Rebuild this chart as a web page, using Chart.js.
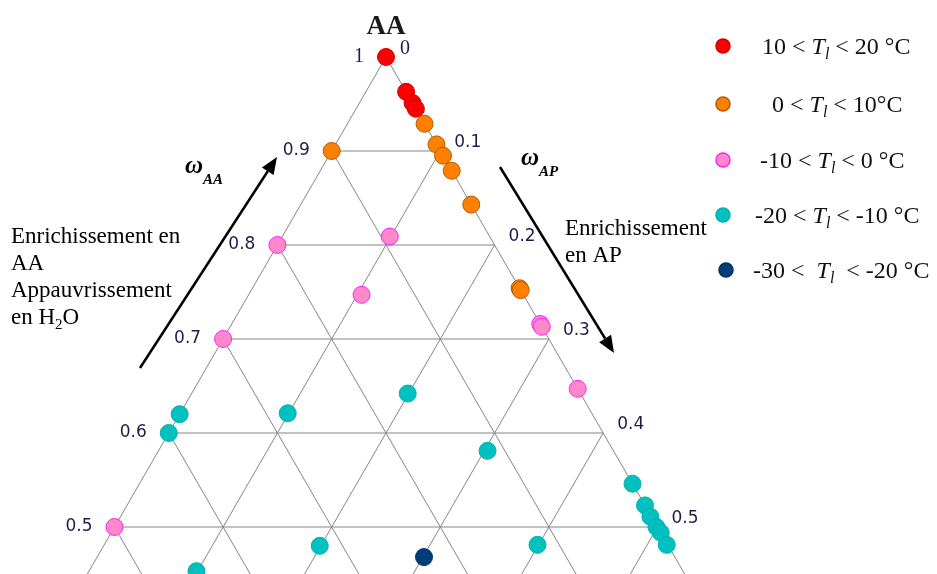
<!DOCTYPE html>
<html>
<head>
<meta charset="utf-8">
<script src="https://cdn.jsdelivr.net/npm/chart.js@4.4.1/dist/chart.umd.min.js"></script>
<style>
  html, body { margin: 0; padding: 0; background: #fff; }
  #wrap { width: 937px; height: 574px; position: relative; }
</style>
</head>
<body>
<div id="wrap"><canvas id="ternary"></canvas></div>
<script>
// mass fractions: AA (top corner) and AP (right edge); H2O = 1 - AA - AP
const tempLow = ["10", "0", "-10", "-20", "-30"];
const tempHigh = ["20 °C", "10°C", "0 °C", "-10 °C", "-20 °C"];

const aa10to20 = [1.000, 0.963, 0.951, 0.945];
const ap10to20 = [0.000, 0.037, 0.049, 0.055];

const aa0to10 = [0.929, 0.907, 0.895, 0.879, 0.900, 0.843, 0.754, 0.752];
const ap0to10 = [0.071, 0.093, 0.105, 0.121, 0.000, 0.157, 0.246, 0.248];

const aaM10to0 = [0.800, 0.809, 0.747, 0.700, 0.716, 0.713, 0.647, 0.500];
const apM10to0 = [0.000, 0.099, 0.104, 0.000, 0.284, 0.287, 0.353, 0.000];

const aaM20toM10 = [0.620, 0.600, 0.621, 0.642, 0.581, 0.546, 0.523, 0.511, 0.500, 0.494, 0.481, 0.481, 0.480, 0.453];
const apM20toM10 = [0.000, 0.000, 0.099, 0.199, 0.303, 0.454, 0.477, 0.488, 0.499, 0.506, 0.518, 0.399, 0.199, 0.099];

const aaM30toM20 = [0.468];
const apM30toM20 = [0.301];

const aaTicks = [1, 0.9, 0.8, 0.7, 0.6, 0.5];
const apTicks = [0, 0.1, 0.2, 0.3, 0.4, 0.5];
const gridSteps = [0.1, 0.2, 0.3, 0.4, 0.5, 0.6, 0.7, 0.8, 0.9];

const fillColors = ["#ff0000", "#ff8000", "#ff88c8", "#00c0c0", "#003d7a"];
const edgeColors = ["#d00000", "#b35a00", "#ff22ff", "#00b0b0", "#002f66"];

// ternary -> cartesian (side length 1, y kept as the AA fraction)
function toXY(aa, ap) {
  return { x: ap + aa / 2, y: aa };
}

function pointsOf(aaList, apList) {
  return aaList.map((a, i) => toXY(a, apList[i]));
}

// all grid lines in one dataset, separated by null points
function buildGrid() {
  const pts = [];
  const gap = { x: null, y: null };
  function seg(a1, p1, a2, p2) {
    pts.push(toXY(a1, p1), toXY(a2, p2), gap);
  }
  seg(1, 0, 0, 0);   // left edge
  seg(1, 0, 0, 1);   // right edge
  seg(0, 0, 0, 1);   // base
  gridSteps.forEach((k) => {
    seg(k, 0, k, 1 - k);        // constant AA
    seg(1 - k, k, 0, k);        // constant AP
    seg(1 - k, 0, 0, 1 - k);    // constant H2O
  });
  return pts;
}

const seriesData = [
  pointsOf(aa10to20, ap10to20),
  pointsOf(aa0to10, ap0to10),
  pointsOf(aaM10to0, apM10to0),
  pointsOf(aaM20toM10, apM20toM10),
  pointsOf(aaM30toM20, apM30toM20),
];

const datasets = seriesData.map((d, i) => ({
  label: tempLow[i] + " < Tl < " + tempHigh[i],
  data: d,
  pointRadius: 8.5,
  pointHoverRadius: 8.5,
  pointBackgroundColor: fillColors[i],
  pointBorderColor: edgeColors[i],
  pointBorderWidth: 1,
  backgroundColor: fillColors[i],
  borderColor: edgeColors[i],
  order: 5 - i,
}));

datasets.push({
  label: "grid",
  data: buildGrid(),
  showLine: true,
  spanGaps: false,
  pointRadius: 0,
  pointHoverRadius: 0,
  borderColor: "#858585",
  borderWidth: 1,
  order: 20,
});

const SERIF = '"Liberation Serif", "Times New Roman", serif';
const SANS = '"DejaVu Sans", Tahoma, sans-serif';
const TICK_COLOR = "#1c1c4e";

function drawRich(ctx, x, y, parts) {
  let cx = x;
  parts.forEach((p) => {
    ctx.font = p.font;
    ctx.fillText(p.t, cx, y + (p.dy || 0));
    cx += ctx.measureText(p.t).width;
  });
}

function drawArrow(ctx, x1, y1, x2, y2) {
  const ang = Math.atan2(y2 - y1, x2 - x1);
  const len = 17, half = 7;
  const bx = x2 - len * Math.cos(ang), by = y2 - len * Math.sin(ang);
  ctx.strokeStyle = "#000";
  ctx.lineWidth = 2.5;
  ctx.beginPath();
  ctx.moveTo(x1, y1);
  ctx.lineTo(bx, by);
  ctx.stroke();
  ctx.fillStyle = "#000";
  ctx.beginPath();
  ctx.moveTo(x2, y2);
  ctx.lineTo(bx + half * Math.sin(ang), by - half * Math.cos(ang));
  ctx.lineTo(bx - half * Math.sin(ang), by + half * Math.cos(ang));
  ctx.closePath();
  ctx.fill();
}

const annotations = {
  id: "annotations",
  afterDraw(chart) {
    const ctx = chart.ctx;
    const xs = chart.scales.x, ys = chart.scales.y;
    const px = (a, p) => {
      const q = toXY(a, p);
      return [xs.getPixelForValue(q.x), ys.getPixelForValue(q.y)];
    };
    ctx.save();

    // corner title
    ctx.fillStyle = "#1a1a1a";
    ctx.font = "bold 27px " + SERIF;
    ctx.textAlign = "center";
    ctx.textBaseline = "alphabetic";
    const top = px(1, 0);
    ctx.fillText("AA", top[0], 34);

    // AA ticks on the left edge
    ctx.fillStyle = TICK_COLOR;
    ctx.textAlign = "right";
    ctx.textBaseline = "middle";
    aaTicks.forEach((t, i) => {
      const [x, y] = px(t, 0);
      ctx.font = i === 0 ? "20px " + SERIF : "17px " + SANS;
      ctx.fillText(i === 0 ? String(t) : t.toFixed(1), x - 22, y);
    });

    // AP ticks on the right edge
    ctx.textAlign = "left";
    apTicks.forEach((t, i) => {
      const [x, y] = px(1 - t, t);
      ctx.font = i === 0 ? "20px " + SERIF : "17px " + SANS;
      ctx.fillText(i === 0 ? String(t) : t.toFixed(1), x + 14, y - 8.5);
    });

    // arrows
    drawArrow(ctx, 140, 368, 277, 157);
    drawArrow(ctx, 500, 167, 614, 353);

    ctx.fillStyle = "#000";
    ctx.textBaseline = "alphabetic";
    drawRich(ctx, 185, 173, [
      { t: "ω", font: "bold italic 25px " + SERIF },
      { t: "AA", font: "bold italic 15px " + SERIF, dy: 11 },
    ]);
    drawRich(ctx, 521, 165, [
      { t: "ω", font: "bold italic 25px " + SERIF },
      { t: "AP", font: "bold italic 15px " + SERIF, dy: 11 },
    ]);

    ctx.font = "23px " + SERIF;
    ctx.fillText("Enrichissement en", 11, 243);
    ctx.fillText("AA", 11, 270);
    ctx.fillText("Appauvrissement", 11, 297);
    drawRich(ctx, 11, 324, [
      { t: "en H", font: "23px " + SERIF },
      { t: "2", font: "15px " + SERIF, dy: 5 },
      { t: "O", font: "23px " + SERIF },
    ]);
    ctx.font = "23px " + SERIF;
    ctx.fillText("Enrichissement", 565, 235);
    ctx.fillText("en AP", 565, 262);

    // legend
    const rowY = [46, 104, 160, 215, 270];
    const markX = [723, 723, 723, 723, 726];
    const textX = [762, 772, 760, 755, 753];
    tempLow.forEach((lo, i) => {
      ctx.beginPath();
      ctx.arc(markX[i], rowY[i], 7, 0, Math.PI * 2);
      ctx.fillStyle = fillColors[i];
      ctx.fill();
      ctx.lineWidth = 1.5;
      ctx.strokeStyle = edgeColors[i];
      ctx.stroke();
      ctx.fillStyle = "#111";
      const gapTxt = i === 4 ? "  " : " ";
      drawRich(ctx, textX[i], rowY[i] + 8, [
        { t: lo + " <" + gapTxt, font: "24px " + SERIF },
        { t: "T", font: "italic 24px " + SERIF },
        { t: "l", font: "italic 16px " + SERIF, dy: 5 },
        { t: gapTxt + "< " + tempHigh[i], font: "24px " + SERIF },
      ]);
    });

    ctx.restore();
  },
};

new Chart(document.getElementById("ternary").getContext("2d"), {
  type: "scatter",
  data: { datasets: datasets },
  options: {
    responsive: true,
    maintainAspectRatio: false,
    animation: false,
    layout: { padding: 0, autoPadding: false },
    scales: {
      x: { type: "linear", min: 0.14457, max: 1.00737, display: false },
      y: { type: "linear", min: 0.45, max: 1.06064, display: false },
    },
    plugins: {
      legend: { display: false },
      tooltip: { filter: (item) => item.dataset.label !== "grid" },
    },
  },
  plugins: [annotations],
});
</script>
</body>
</html>
